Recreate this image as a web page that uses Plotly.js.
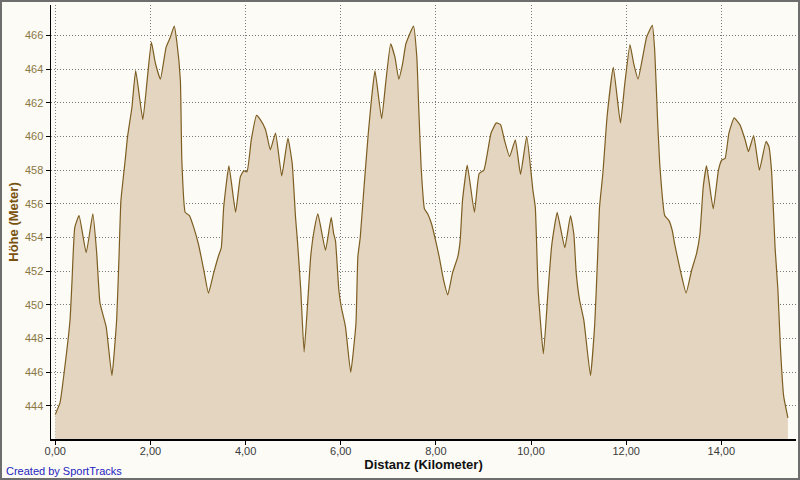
<!DOCTYPE html>
<html>
<head>
<meta charset="utf-8">
<script src="https://cdn.plot.ly/plotly-3.0.1.min.js"></script>
<style>
html,body{margin:0;padding:0;background:#fcfbf6;}
#wrap{position:relative;width:800px;height:480px;}
#chart{width:800px;height:480px;}
#frame{position:absolute;left:0;top:0;width:800px;height:480px;box-sizing:border-box;border:2px solid #6e6e6e;pointer-events:none;}
</style>
</head>
<body>
<div id="wrap"><div id="chart"></div><div id="frame"></div></div>
<script>
// Distance (km)
var distanceKm = [0, 0.1, 0.2, 0.31, 0.35, 0.41, 0.5, 0.65, 0.79, 0.87, 0.94, 1.07, 1.19, 1.29, 1.34, 1.38, 1.47, 1.52, 1.61, 1.69,
  1.84, 1.93, 2.02, 2.1, 2.21, 2.33, 2.42, 2.5, 2.56, 2.63, 2.66, 2.73, 2.82, 2.91, 3.01, 3.12, 3.22, 3.33, 3.43, 3.49,
  3.54, 3.65, 3.79, 3.89, 3.96, 4.03, 4.12, 4.23, 4.31, 4.42, 4.52, 4.63, 4.76, 4.89, 4.98, 5.05, 5.09, 5.16, 5.23, 5.3,
  5.37, 5.44, 5.52, 5.68, 5.8, 5.85, 5.89, 5.96, 6.01, 6.1, 6.21, 6.32, 6.36, 6.41, 6.49, 6.58, 6.65, 6.72, 6.86, 6.95,
  7.05, 7.14, 7.22, 7.3, 7.37, 7.53, 7.6, 7.64, 7.69, 7.76, 7.83, 7.91, 7.98, 8.07, 8.16, 8.25, 8.35, 8.46, 8.51, 8.56,
  8.66, 8.81, 8.91, 9.01, 9.16, 9.27, 9.36, 9.44, 9.55, 9.67, 9.78, 9.91, 10.04, 10.09, 10.15, 10.26, 10.36, 10.43, 10.49, 10.55,
  10.71, 10.83, 10.9, 10.95, 11.02, 11.11, 11.25, 11.34, 11.4, 11.44, 11.51, 11.6, 11.73, 11.88, 11.97, 12.08, 12.16, 12.25, 12.36, 12.43,
  12.55, 12.6, 12.66, 12.71, 12.81, 12.9, 12.97, 13.02, 13.15, 13.26, 13.38, 13.48, 13.55, 13.62, 13.69, 13.83, 13.94, 14.01, 14.08, 14.16,
  14.27, 14.39, 14.5, 14.57, 14.68, 14.8, 14.94, 15.0, 15.06, 15.13, 15.19, 15.24, 15.31, 15.4];
// Elevation (m)
var elevationM = [443.5, 444.2, 446.3, 449.1, 451.3, 454.6, 455.3, 453.1, 455.4, 453.1, 450.1, 448.7, 445.8, 449.1, 452.9, 456.2, 458.6, 460.0, 461.7, 463.9,
  461.0, 463.3, 465.6, 464.4, 463.4, 465.3, 465.9, 466.55, 465.5, 463.3, 458.6, 455.5, 455.3, 454.6, 453.6, 452.1, 450.7, 451.9, 452.9, 453.4,
  455.8, 458.25, 455.5, 457.6, 457.95, 457.9, 459.8, 461.25, 461.0, 460.4, 459.2, 460.2, 457.65, 459.9, 458.4, 455.2, 453.8, 450.9, 447.2, 449.9,
  452.9, 454.4, 455.4, 453.25, 455.2, 454.25, 453.8, 450.9, 449.9, 448.7, 446.0, 448.9, 452.85, 454.0, 457.0, 460.2, 462.3, 463.9, 461.05, 463.3,
  465.5, 464.7, 463.4, 464.3, 465.5, 466.55, 464.7, 461.7, 458.2, 455.7, 455.4, 454.8, 454.0, 452.85, 451.5, 450.6, 451.9, 452.85, 453.8, 456.2,
  458.3, 455.5, 457.8, 458.0, 460.2, 460.8, 460.7, 459.8, 458.8, 459.8, 457.75, 460.0, 456.8, 455.8, 450.9, 447.1, 450.9, 453.4, 454.6, 455.5,
  453.4, 455.3, 454.2, 451.9, 450.3, 449.1, 445.8, 448.9, 452.85, 455.8, 457.8, 461.2, 464.1, 460.8, 463.1, 465.45, 464.3, 463.4, 464.9, 465.9,
  466.6, 465.1, 461.0, 458.2, 455.3, 455.0, 454.4, 453.6, 451.9, 450.7, 452.1, 453.05, 454.2, 457.0, 458.25, 455.7, 458.0, 458.6, 458.7, 460.2,
  461.1, 460.7, 459.8, 459.1, 460.05, 458.0, 459.7, 459.4, 457.8, 453.4, 450.9, 447.6, 444.6, 443.3];

var xTickVals = [0, 2, 4, 6, 8, 10, 12, 14];
var yTickVals = [444, 446, 448, 450, 452, 454, 456, 458, 460, 462, 464, 466];

var trace = {
  x: distanceKm, y: elevationM, type: 'scatter', mode: 'lines',
  line: {color: '#7d5e22', width: 1.2, shape: 'spline', smoothing: 0.4},
  fill: 'tozeroy', fillcolor: '#e3d5bf',
  hoverinfo: 'skip'
};

var layout = {
  width: 800, height: 480,
  margin: {l: 51, r: 4, t: 5, b: 41},
  paper_bgcolor: '#fcfbf6', plot_bgcolor: '#fcfbf6',
  separators: ',.',
  showlegend: false,
  font: {family: 'Liberation Sans, Arial, sans-serif', size: 11, color: '#333'},
  xaxis: {
    range: [-0.09, 15.57], tickvals: xTickVals, tickformat: '.2f',
    showline: true, linecolor: '#000', linewidth: 1.5,
    ticks: 'outside', ticklen: 4, tickcolor: '#000',
    ticklabelstandoff: -3,
    showgrid: true, gridcolor: '#7a7a7a', griddash: '1px,2px', gridwidth: 1,
    zeroline: false,
    tickfont: {family: 'Liberation Sans, Arial, sans-serif', size: 11, color: '#3a3a3a'},
    title: {text: 'Distanz (Kilometer)', standoff: 4,
      font: {family: 'Liberation Sans, Arial, sans-serif', size: 13, color: '#111', weight: 'bold'}}
  },
  yaxis: {
    range: [442.04, 467.8], tickvals: yTickVals,
    showline: true, linecolor: '#000', linewidth: 1.5,
    ticks: 'outside', ticklen: 4, tickcolor: '#000',
    showgrid: true, gridcolor: '#7a7a7a', griddash: '1px,2px', gridwidth: 1,
    zeroline: false,
    tickfont: {family: 'Liberation Sans, Arial, sans-serif', size: 11, color: '#8a7743'},
    title: {text: 'Höhe (Meter)', standoff: 3,
      font: {family: 'Liberation Sans, Arial, sans-serif', size: 13, color: '#7a520f', weight: 'bold'}}
  },
  annotations: [{
    text: 'Created by SportTracks', xref: 'paper', yref: 'paper',
    x: -0.063, y: -0.074, xanchor: 'left', yanchor: 'middle', showarrow: false,
    font: {family: 'Liberation Sans, Arial, sans-serif', size: 11, color: '#2424c0'}
  }]
};

Plotly.newPlot('chart', [trace], layout, {displayModeBar: false, staticPlot: true});
</script>
</body>
</html>
